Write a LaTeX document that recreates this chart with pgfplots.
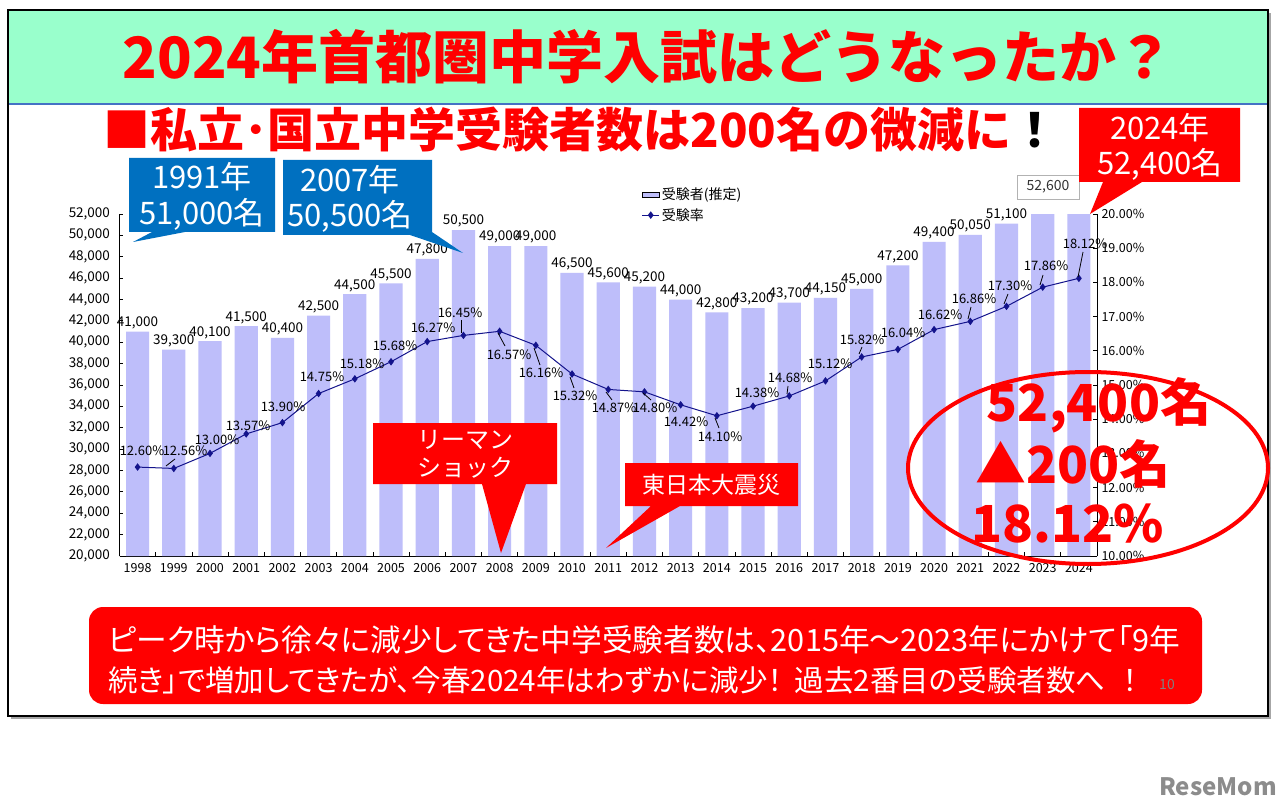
\documentclass[border=0pt]{standalone}
\usepackage{fontspec}
\setmainfont{Noto Sans CJK JP}
\usepackage{pgfplots}
\pgfplotsset{compat=1.18}
\pgfplotsset{/pgf/number format/assume math mode=true}
\definecolor{mint}{RGB}{153,255,204}
\definecolor{barcol}{RGB}{190,190,250}
\definecolor{navy}{RGB}{20,20,140}
\definecolor{cblue}{RGB}{0,112,192}
\definecolor{bandline}{RGB}{68,114,196}
\definecolor{pred}{RGB}{255,0,0}
\newcommand\fs[1]{\fontsize{#1}{#1}\selectfont}
\begin{document}
\begin{tikzpicture}
\useasboundingbox (0,0) rectangle (1280pt,-810pt);
\fill[white] (0,0) rectangle (1280pt,-810pt);
\begin{scope}[x=1pt,y=-1pt]
\fill[gray!70] (11,13) rectangle (1271,719);
\fill[white] (8,10) rectangle (1268,716);
\fill[mint] (9,11) rectangle (1267,104);
\draw[bandline, line width=1.2pt] (9,104) -- (1267,104);
\draw[black, line width=2.6pt] (8,10) rectangle (1268,716);
\node[pred, font=\fs{57}\bfseries, inner sep=0] at (648,57) {2024年首都圏中学入試はどうなったか？};
\node[anchor=west, font=\fs{47}\bfseries, inner sep=0] at (103,130) {\textcolor{pred}{■私立･国立中学受験者数は200名の微減に}！};
\end{scope}

\begin{axis}[
  at={(119.5pt,-556pt)}, anchor=south west, scale only axis,
  width=977.5pt, height=342pt,
  xmin=1997.5, xmax=2024.5, ymin=20000, ymax=52000,
  axis x line*=bottom, axis y line*=left,
  axis line style={line width=1pt},
  tick align=inside, major tick length=4pt,
  tick style={black, line width=0.8pt},
  ytick={20000,22000,...,52000},
  scaled y ticks=false,
  yticklabel style={font=\fs{13.5}, xshift=-6pt},
  xtick={1997.5,1998.5,...,2023.5},
  xticklabels={1998,1999,2000,2001,2002,2003,2004,2005,2006,2007,2008,2009,2010,2011,2012,2013,2014,2015,2016,2017,2018,2019,2020,2021,2022,2023,2024},
  xticklabel style={font=\fs{12.5}, xshift=18.1pt, yshift=-4pt},
  clip=true,
]
\addplot[ybar, bar width=0.64, bar shift=0pt, fill=barcol, draw=none,
  nodes near coords, nodes near coords style={font=\fs{13.5}, black, yshift=-1pt}]
  coordinates {(1998,41000) (1999,39300) (2000,40100) (2001,41500) (2002,40400)
  (2003,42500) (2004,44500) (2005,45500) (2006,47800) (2007,50500) (2008,49000)
  (2009,49000) (2010,46500) (2011,45600) (2012,45200) (2013,44000) (2014,42800)
  (2015,43200) (2016,43700) (2017,44150) (2018,45000) (2019,47200) (2020,49400)
  (2021,50050) (2022,51100)};
\addplot[ybar, bar width=0.64, bar shift=0pt, fill=barcol, draw=none]
  coordinates {(2023,52600) (2024,52400)};
\end{axis}

\begin{axis}[
  at={(119.5pt,-556pt)}, anchor=south west, scale only axis,
  width=977.5pt, height=342pt,
  xmin=1997.5, xmax=2024.5, ymin=10, ymax=20,
  axis x line=none, axis y line*=right,
  axis line style={line width=1pt},
  tick align=inside, major tick length=4pt,
  tick style={black, line width=0.8pt},
  ytick={10,11,...,20},
  yticklabel={\pgfmathprintnumber[fixed,fixed zerofill,precision=2]{\tick}\%},
  yticklabel style={font=\fs{12.5}, xshift=1pt},
  legend style={at={(0.533,1.085)}, anchor=north west, draw=none, fill=none,
    font=\fs{14}, row sep=3pt, inner sep=1pt},
  legend cell align=left,
]
\addlegendimage{area legend, fill=barcol, draw=none}
\addlegendentry{受験者(推定)}
\addplot[navy, line width=1pt, mark=diamond*, mark size=3pt, mark options={fill=navy}]
  coordinates {(1998,12.60) (1999,12.56) (2000,13.00) (2001,13.57) (2002,13.90)
  (2003,14.75) (2004,15.18) (2005,15.68) (2006,16.27) (2007,16.45) (2008,16.57)
  (2009,16.16) (2010,15.32) (2011,14.87) (2012,14.80) (2013,14.42) (2014,14.10)
  (2015,14.38) (2016,14.68) (2017,15.12) (2018,15.82) (2019,16.04) (2020,16.62)
  (2021,16.86) (2022,17.30) (2023,17.86) (2024,18.12)};
\addlegendentry{受験率}
\end{axis}

\begin{scope}[x=1pt,y=-1pt]
% line value labels
\begin{scope}[every node/.style={font=\fs{13}, inner sep=0}]
\node at (142,451) {12.60\%};
\node at (185,451) {12.56\%};
\node at (217,440) {13.00\%};
\node at (248,426) {13.57\%};
\node at (283,407) {13.90\%};
\node at (322,377) {14.75\%};
\node at (362,364) {15.18\%};
\node at (395,346) {15.68\%};
\node at (433,328) {16.27\%};
\node at (460,313) {16.45\%};
\node at (509,355) {16.57\%};
\node at (541,373) {16.16\%};
\node at (575,396) {15.32\%};
\node at (614,408) {14.87\%};
\node at (655,408) {14.80\%};
\node at (686,422) {14.42\%};
\node at (720,437) {14.10\%};
\node at (757,393) {14.38\%};
\node at (790,378) {14.68\%};
\node at (830,364) {15.12\%};
\node at (862,340) {15.82\%};
\node at (903,333) {16.04\%};
\node at (940,315) {16.62\%};
\node at (974,299) {16.86\%};
\node at (1010,286) {17.30\%};
\node at (1046,266) {17.86\%};
\node at (1085,244) {18.12\%};
\end{scope}
\begin{scope}[black, line width=0.8pt]
\draw (166,466) -- (175,459);
\draw (461,320) -- (461,333);
\draw (498,333) -- (505,346);
\draw (534,348) -- (540,365);
\draw (570,377) -- (574,388);
\draw (606,392) -- (612,400);
\draw (643,393) -- (651,400);
\draw (715,418) -- (719,428);
\draw (787,394) -- (788,386);
\draw (859,354) -- (862,347);
\draw (968,319) -- (971,307);
\draw (1004,304) -- (1008,294);
\draw (1040,285) -- (1043,275);
\draw (1078,277) -- (1083,252);
\end{scope}
% 52,600 box
\node[draw=gray!60, fill=white, font=\fs{14}, text=black!80, minimum width=62pt, minimum height=24pt, inner sep=0] at (1048,187) {52,600};
% blue callouts
\fill[cblue] (129,158) -- (275,158) -- (275,232) -- (185,232) -- (133,242) -- (152,232) -- (129,232) -- cycle;
\node[white, font=\fs{31}, align=center, inner sep=0] at (202,177) {1991年};
\node[white, font=\fs{31}, align=center, inner sep=0] at (202,214) {51,000名};
\fill[cblue] (283,160) -- (432,160) -- (432,232) -- (463,253) -- (410,235) -- (283,235) -- cycle;
\node[white, font=\fs{31}, inner sep=0] at (350,180) {2007年};
\node[white, font=\fs{31}, inner sep=0] at (350,216) {50,500名};
% 2024 red callout
\fill[pred] (1079,108) -- (1240,108) -- (1240,182) -- (1142,182) -- (1090,214) -- (1103,182) -- (1079,182) -- cycle;
\node[white, font=\fs{31}, inner sep=0] at (1160,128) {2024年};
\node[white, font=\fs{31}, inner sep=0] at (1160,164) {52,400名};
% Lehman
\fill[pred] (373,423) -- (557,423) -- (557,484) -- (526,484) -- (501,553) -- (482,484) -- (373,484) -- cycle;
\node[white, font=\fs{24}, inner sep=0] at (465,440) {リーマン};
\node[white, font=\fs{24}, inner sep=0] at (465,468) {ショック};
% earthquake
\fill[pred] (625,463) -- (798,463) -- (798,506) -- (680,506) -- (606,548) -- (651,506) -- (625,506) -- cycle;
\node[white, font=\fs{23}, inner sep=0] at (711,485) {東日本大震災};
% ellipse
\draw[pred, line width=4pt] (1088,468) ellipse [x radius=180, y radius=96];
\node[pred, font=\fs{51}\bfseries, inner sep=0] at (1099,405) {52,400名};
\node[pred, font=\fs{51}\bfseries, inner sep=0] at (1073,464) {▲200名};
\node[pred, font=\fs{51}\bfseries, inner sep=0] at (1068,524) {18.12\%};
% bottom box
\fill[pred, rounded corners=14pt] (89,607) rectangle (1202,704);
\node[white, anchor=west, font=\fs{30.7}\addfontfeature{RawFeature=+palt}, inner sep=0] at (108,640) {ピーク時から徐々に減少してきた中学受験者数は、2015年～2023年にかけて「9年};
\node[white, anchor=west, font=\fs{29.5}\addfontfeature{RawFeature=+palt}, inner sep=0] at (108,680) {続き」で増加してきたが、今春2024年はわずかに減少！\hspace{0.4em}過去2番目の受験者数へ\hspace{0.6em}！};
\node[gray, font=\fs{14}, inner sep=0] at (1167,685) {10};
\node[gray!90, font=\fs{24}\bfseries, inner sep=0] at (1218,787) {ReseMom};
\end{scope}
\end{tikzpicture}
\end{document}
